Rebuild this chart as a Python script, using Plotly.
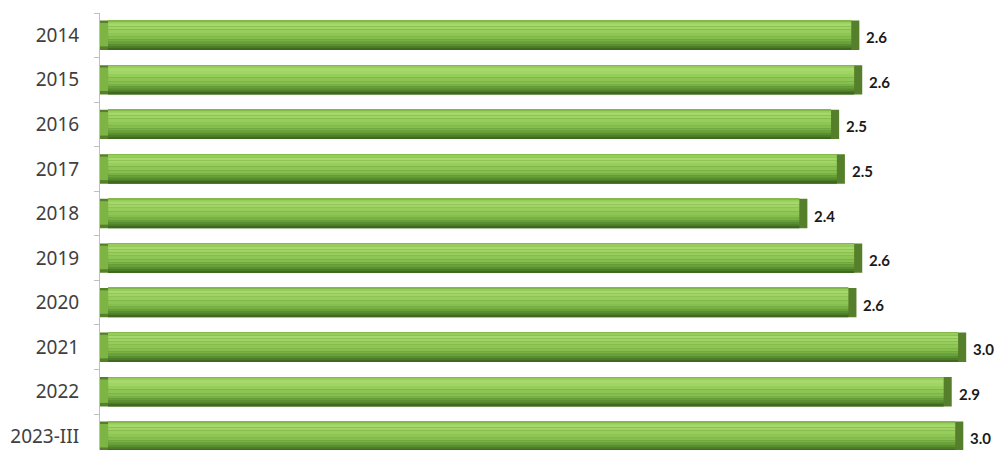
import plotly.graph_objects as go

categories = ["2014", "2015", "2016", "2017", "2018", "2019", "2020", "2021", "2022", "2023-III"]
values = [2.63, 2.64, 2.56, 2.58, 2.45, 2.64, 2.62, 3.00, 2.95, 2.99]
labels = ["2.6", "2.6", "2.5", "2.5", "2.4", "2.6", "2.6", "3.0", "2.9", "3.0"]

BAR_W = 0.66
BEVEL = 0.028
# horizontal stripes (fraction start, fraction end, colour) from top to bottom of each bar
stripes = [
    (0.00, 0.05, "#82b94a"),
    (0.05, 0.10, "#98cd5e"),
    (0.10, 0.20, "#a6d96b"),
    (0.20, 0.30, "#a0d465"),
    (0.30, 0.42, "#96cd5b"),
    (0.42, 0.55, "#8ec655"),
    (0.55, 0.64, "#86bf4e"),
    (0.64, 0.72, "#78b244"),
    (0.72, 0.80, "#68a039"),
    (0.80, 0.87, "#5a8f30"),
    (0.87, 0.94, "#4c7c27"),
    (0.94, 1.00, "#3e6a1f"),
]

fig = go.Figure()

# base bar (dark end caps)
fig.add_trace(go.Bar(
    y=categories, x=values, orientation="h",
    width=BAR_W, offset=-BAR_W / 2,
    marker=dict(color="#557f2a", line=dict(width=0)),
    hoverinfo="skip", showlegend=False,
))
# left bevel (lighter)
fig.add_trace(go.Bar(
    y=categories, x=[BEVEL] * len(values), orientation="h",
    width=BAR_W * 0.8, offset=-BAR_W / 2 + BAR_W * 0.08,
    marker=dict(color="#7db443", line=dict(width=0)),
    hoverinfo="skip", showlegend=False,
))
for f0, f1, col in stripes:
    fig.add_trace(go.Bar(
        y=categories,
        x=[v - 2 * BEVEL for v in values],
        base=[BEVEL] * len(values),
        orientation="h",
        width=BAR_W * (f1 - f0),
        offset=-BAR_W / 2 + BAR_W * f0,
        marker=dict(color=col, line=dict(width=0)),
        hoverinfo="skip", showlegend=False,
    ))

for i, (v, t) in enumerate(zip(values, labels)):
    fig.add_annotation(
        x=v, y=i, text="<b>" + t + "</b>", showarrow=False,
        xanchor="left", xshift=5, yshift=-2,
        font=dict(family="Lato", size=15, color="#1a1a1a"),
    )

fig.update_layout(
    width=996, height=442,
    margin=dict(l=92, r=0, t=5, b=0),
    paper_bgcolor="white", plot_bgcolor="white",
    barmode="overlay", bargap=0.34,
    showlegend=False,
    xaxis=dict(range=[0, 3.131], visible=False, fixedrange=True),
    yaxis=dict(
        type="category",
        range=[9.307, -0.5],
        showline=True, linecolor="#bfbfbf", linewidth=1,
        ticks="outside", tickson="boundaries", ticklen=5, tickcolor="#bfbfbf",
        showgrid=False, zeroline=False,
        tickfont=dict(family="Noto Sans", size=19, color="#404040"),
        ticklabelstandoff=16,
        automargin=False,
    ),
)

fig.write_html("out.html")
